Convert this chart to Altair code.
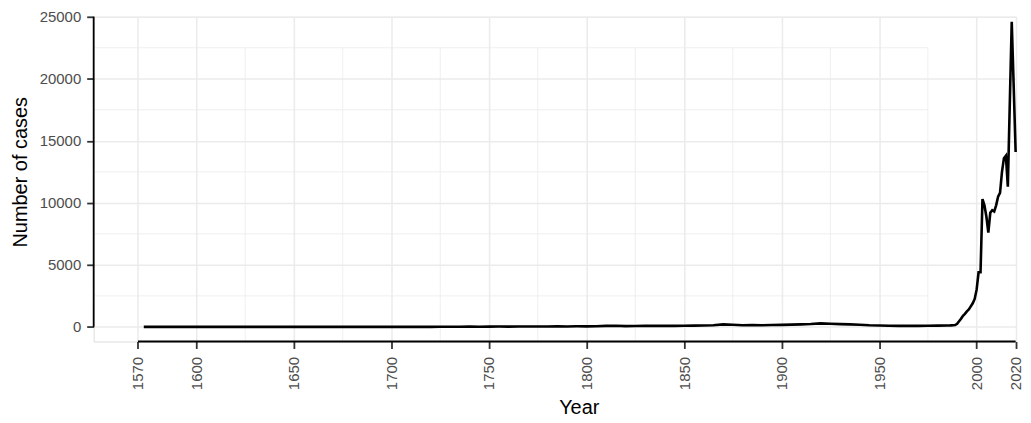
import altair as alt
import pandas as pd

# ---- data ----
years = [1573, 1600, 1650, 1700, 1720,
         1725, 1730, 1735, 1740, 1745, 1750, 1755, 1760, 1765, 1770,
         1775, 1780, 1785, 1790, 1795, 1800, 1805, 1810, 1815, 1820,
         1825, 1830, 1835, 1840, 1845, 1850, 1855, 1860, 1865, 1870,
         1875, 1880, 1885, 1890, 1895, 1900, 1905, 1910, 1915, 1920,
         1925, 1930, 1935, 1940, 1945, 1950, 1955, 1960, 1965, 1970,
         1975, 1980, 1985, 1986, 1987, 1988, 1989, 1990, 1991, 1992,
         1993, 1994, 1995, 1996, 1997, 1998, 1999, 2000, 2001, 2002,
         2003, 2004, 2005, 2006, 2007, 2008, 2009, 2010, 2011, 2012,
         2013, 2014, 2015, 2016, 2017, 2018, 2019, 2020]
cases = [0, 0, 0, 0, 0,
         10, 15, 10, 20, 15, 20, 25, 20, 30, 25,
         35, 30, 40, 35, 45, 40, 50, 80, 90, 60,
         70, 90, 80, 90, 80, 90, 100, 110, 130, 200,
         170, 130, 140, 130, 150, 160, 180, 200, 230, 280,
         250, 220, 200, 170, 130, 110, 90, 80, 90, 80,
         90, 100, 110, 110, 120, 130, 150, 250, 450, 650,
         900, 1050, 1250, 1400, 1650, 1900, 2250, 3000, 4400, 4400,
         10300, 9800, 8900, 7600, 9200, 9400, 9300, 9800, 10500, 10800,
         12500, 13600, 13800, 11300, 18000, 24600, 19400, 14100]

x_ticks = [1570, 1600, 1650, 1700, 1750, 1800, 1850, 1900, 1950, 2000, 2020]
y_ticks = [0, 5000, 10000, 15000, 20000, 25000]
minor_x = [1625, 1675, 1725, 1775, 1825, 1875, 1925, 1975]
minor_y = [2500, 7500, 12500, 17500, 22500]

x_domain = [1547.3, 2020.2]
y_domain = [-1180, 25000]
minor_x_end = 1975
minor_y_end = 22500
x_axis_span = [1570, 2020]
y_axis_span = [0, 25000]

FONT = "Liberation Sans"
GRID = "#EBEBEB"

df = pd.DataFrame({"Year": years, "Cases": cases})

xs = alt.Scale(domain=x_domain, nice=False, zero=False)
ys = alt.Scale(domain=y_domain, nice=False, zero=False)

x_ax = alt.Axis(
    values=x_ticks, title="Year", format="d", labelAngle=270, labelOverlap=False,
    labelFlush=False, labelBound=False, labelPadding=8,
    titleX=487, titleY=72, titleAlign="center", titleBaseline="alphabetic")
y_ax = alt.Axis(
    values=y_ticks, title="Number of cases", format="d", labelPadding=6,
    labelOverlap=False, labelFlush=False,
    titleX=-67, titleY=155.6, titleAngle=270, titleAlign="center",
    titleBaseline="alphabetic")

# minor grid (partial, as in the reference)
mh = pd.DataFrame({"y": minor_y, "x0": [x_domain[0]] * len(minor_y),
                   "x1": [minor_x_end] * len(minor_y)})
mv = pd.DataFrame({"x": minor_x, "y0": [y_domain[0]] * len(minor_x),
                   "y1": [minor_y_end] * len(minor_x)})

minor_h = alt.Chart(mh).mark_rule(color=GRID, strokeWidth=0.8).encode(
    x=alt.X("x0:Q", scale=xs, axis=x_ax), x2="x1:Q",
    y=alt.Y("y:Q", scale=ys, axis=y_ax))
minor_v = alt.Chart(mv).mark_rule(color=GRID, strokeWidth=0.8).encode(
    x=alt.X("x:Q", scale=xs, axis=x_ax),
    y=alt.Y("y0:Q", scale=ys, axis=y_ax), y2="y1:Q")

line = alt.Chart(df).mark_line(color="black", strokeWidth=2.6).encode(
    x=alt.X("Year:Q", scale=xs, axis=x_ax),
    y=alt.Y("Cases:Q", scale=ys, axis=y_ax),
)

# capped axis lines
ya = pd.DataFrame({"y0": [y_axis_span[0]], "y1": [y_axis_span[1]]})
xa = pd.DataFrame({"x0": [x_axis_span[0]], "x1": [x_axis_span[1]]})
y_line = alt.Chart(ya).mark_rule(color="black", strokeWidth=1.8).encode(
    x=alt.value(0), y=alt.Y("y0:Q", scale=ys, axis=y_ax), y2="y1:Q")
x_line = alt.Chart(xa).mark_rule(color="black", strokeWidth=1.8).encode(
    y=alt.value(326), x=alt.X("x0:Q", scale=xs, axis=x_ax), x2="x1:Q")

chart = alt.layer(minor_h, minor_v, line, y_line, x_line).properties(
    width=926, height=326,
    autosize=alt.AutoSizeParams(type="none"),
    padding={"left": 86, "top": 8, "right": 7, "bottom": 80},
).configure_view(stroke=None).configure(font=FONT).configure_axis(
    domain=False, grid=True, gridColor=GRID, gridWidth=1.5,
    ticks=True, tickColor="#333333", tickWidth=1.8, tickSize=7,
    labelFont=FONT, labelFontSize=15, labelColor="#4D4D4D",
    titleFont=FONT, titleFontSize=20, titleColor="black", titleFontWeight="normal",
)

chart.save("out.html", embed_options={"renderer": "svg", "actions": False})
